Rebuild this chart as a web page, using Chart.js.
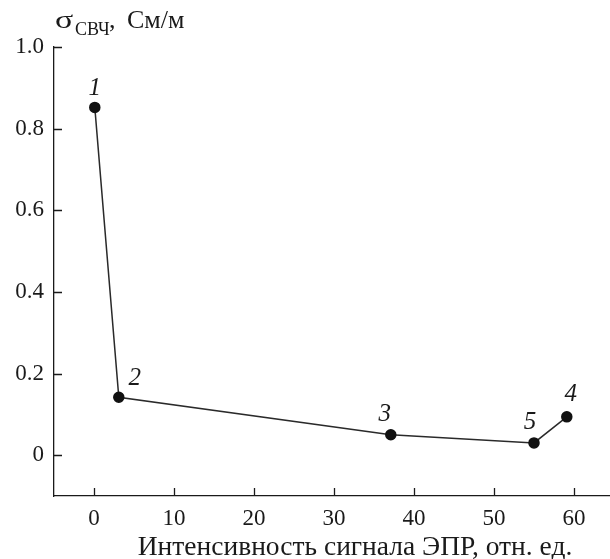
<!DOCTYPE html>
<html>
<head>
<meta charset="utf-8">
<script src="https://cdn.jsdelivr.net/npm/chart.js@4"></script>
<style>
  html, body { margin: 0; padding: 0; background: #fff; }
  #c { display: block; }
</style>
</head>
<body>
<canvas id="c" width="610" height="559"></canvas>
<script>
// sample data: EPR intensity vs microwave conductivity
const epr = [0.1, 3.1, 37.1, 55.0, 59.1];
const sigma = [0.852, 0.142, 0.05, 0.03, 0.094];
const sampleNo = ['1', '2', '3', '5', '4'];
const xTicks = [0, 10, 20, 30, 40, 50, 60];
const yTicks = [0, 0.2, 0.4, 0.6, 0.8, 1.0];

const serif = '"Liberation Serif", "DejaVu Serif", serif';
const ink = '#1a1a1a';

// offsets of the sample numbers from their points
const labelOffsets = [[0, -20], [16, -20], [-6, -22], [-4, -22], [4, -24]];

const inwardTicks = {
  id: 'inwardTicks',
  afterDraw(chart) {
    const { ctx, scales: { x, y } } = chart;
    ctx.save();
    ctx.strokeStyle = ink;
    ctx.lineWidth = 1.3;
    ctx.beginPath();
    xTicks.forEach(v => {
      const px = Math.round(x.getPixelForValue(v)) + 0.5;
      ctx.moveTo(px, y.bottom);
      ctx.lineTo(px, y.bottom - 8);
    });
    yTicks.forEach(v => {
      const py = Math.round(y.getPixelForValue(v)) + 0.5;
      ctx.moveTo(x.left, py);
      ctx.lineTo(x.left + 8, py);
    });
    ctx.stroke();

    // sample numbers
    ctx.fillStyle = ink;
    ctx.font = 'italic 25px ' + serif;
    ctx.textAlign = 'center';
    ctx.textBaseline = 'alphabetic';
    const meta = chart.getDatasetMeta(0);
    meta.data.forEach((pt, i) => {
      const [dx, dy] = labelOffsets[i];
      ctx.fillText(sampleNo[i], pt.x + dx, pt.y + dy + 8);
    });

    // axis titles
    ctx.textAlign = 'left';
    ctx.save();
    ctx.translate(55, 28);
    ctx.scale(1.3, 1);
    ctx.font = '26px ' + serif;
    ctx.fillText('σ', 0, 0);
    ctx.restore();
    ctx.font = '18px ' + serif;
    ctx.fillText('СВЧ', 75, 35);
    ctx.font = '26px ' + serif;
    ctx.fillText(',', 109, 28);
    ctx.fillText('См/м', 127, 28);

    ctx.textAlign = 'center';
    ctx.font = '27.5px ' + serif;
    ctx.fillText('Интенсивность сигнала ЭПР, отн. ед.', 355, 555);
    ctx.restore();
  }
};

new Chart(document.getElementById('c'), {
  type: 'scatter',
  data: {
    datasets: [{
      data: epr.map((v, i) => ({ x: v, y: sigma[i] })),
      showLine: true,
      borderColor: '#2a2a2a',
      borderWidth: 1.5,
      backgroundColor: '#111',
      pointBackgroundColor: '#111',
      pointBorderColor: '#111',
      pointRadius: 5,
      tension: 0
    }]
  },
  options: {
    responsive: false,
    animation: false,
    layout: { autoPadding: false, padding: { top: 47, right: 0, left: 0, bottom: 0 } },
    plugins: { legend: { display: false }, tooltip: { enabled: false } },
    scales: {
      x: {
        type: 'linear',
        min: -5,
        max: 64.5,
        afterBuildTicks: s => { s.ticks = xTicks.map(v => ({ value: v })); },
        afterFit: s => { s.height = 63; s.paddingLeft = 0; s.paddingRight = 0; },
        grid: { display: false, drawTicks: false },
        border: { display: true, color: ink, width: 1.3 },
        ticks: {
          color: ink,
          font: { family: serif, size: 23 },
          padding: 9,
          maxRotation: 0,
          callback: v => String(v)
        }
      },
      y: {
        type: 'linear',
        min: -0.1,
        max: 1.0,
        afterBuildTicks: s => { s.ticks = yTicks.map(v => ({ value: v })); },
        afterFit: s => { s.width = 54; s.paddingTop = 0; s.paddingBottom = 0; },
        grid: { display: false, drawTicks: false },
        border: { display: true, color: ink, width: 1.3 },
        ticks: {
          color: ink,
          font: { family: serif, size: 23 },
          padding: 10,
          callback: v => (v === 0 ? '0' : v.toFixed(1))
        }
      }
    }
  },
  plugins: [inwardTicks]
});
</script>
</body>
</html>
